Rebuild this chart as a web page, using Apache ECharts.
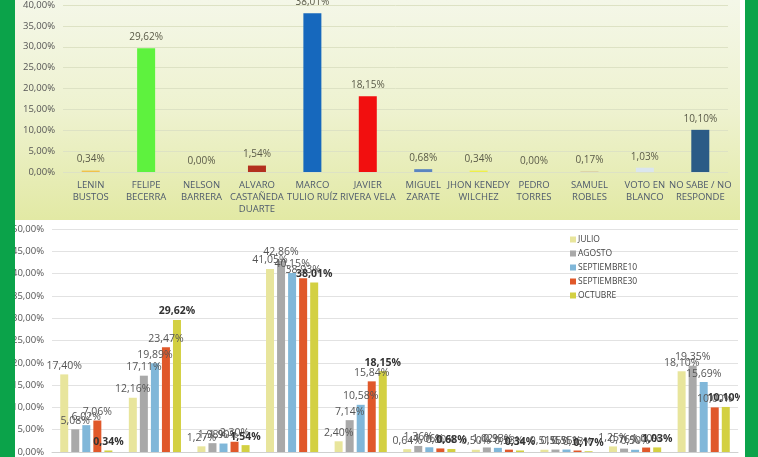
<!DOCTYPE html>
<html>
<head>
<meta charset="utf-8">
<script src="https://cdn.jsdelivr.net/npm/echarts@6/dist/echarts.min.js"></script>
<style>
  html, body { margin: 0; padding: 0; background: #fff; }
  body { width: 758px; height: 457px; position: relative; overflow: hidden; font-family: 'Open Sans', sans-serif; }
  .border-left { position: absolute; left: 0; top: 0; width: 15px; height: 457px; background: #0ba34a; z-index: 5; }
  .border-right { position: absolute; left: 745px; top: 0; width: 13px; height: 457px; background: #0ba34a; z-index: 5; }
  #top { position: absolute; left: 15px; top: 0; width: 725px; height: 220px;
         background: linear-gradient(to bottom, #f4f7e8 0%, #eef2d0 50%, #e2e9a4 100%); }
  #bottom { position: absolute; left: 0; top: 220px; width: 740px; height: 237px; background: #fff; }
</style>
</head>
<body>
<div class="border-left"></div>
<div class="border-right"></div>
<div id="top"></div>
<div id="bottom"></div>
<script>
// octubre, resultado actual
const candidatos = ['LENIN\nBUSTOS', 'FELIPE\nBECERRA', 'NELSON\nBARRERA', 'ALVARO\nCASTAÑEDA\nDUARTE',
  'MARCO\nTULIO RUÍZ', 'JAVIER\nRIVERA VELA', 'MIGUEL\nZARATE', 'JHON KENEDY\nWILCHEZ', 'PEDRO\nTORRES',
  'SAMUEL\nROBLES', 'VOTO EN\nBLANCO', 'NO SABE / NO\nRESPONDE'];
const valoresActual = [0.34, 29.62, 0.00, 1.54, 38.01, 18.15, 0.68, 0.34, 0.00, 0.17, 1.03, 10.10];
const coloresActual = ['#f0c24a', '#5ef23e', '#cccccc', '#b3301e', '#1668bd', '#f20f0f', '#5a85c0',
  '#eef04a', '#cccccc', '#d9c9a0', '#dbe6ee', '#2b5b86'];

// evolucion por mes
const candidatosHist = ['LENIN BUSTOS', 'FELIPE BECERRA', 'ALVARO CASTAÑEDA', 'MARCO TULIO RUÍZ', 'JAVIER RIVERA VELA',
  'MIGUEL ZARATE', 'JHON KENEDY WILCHEZ', 'SAMUEL ROBLES', 'VOTO EN BLANCO', 'NO SABE / NO RESPONDE'];
const meses = ['JULIO', 'AGOSTO', 'SEPTIEMBRE10', 'SEPTIEMBRE30', 'OCTUBRE'];
const julio = [17.40, 12.16, 1.27, 41.05, 2.40, 0.64, 0.50, 0.51, 1.25, 18.10];
const agosto = [5.08, 17.11, 1.98, 42.86, 7.14, 1.36, 1.02, 0.55, 0.76, 19.35];
const septiembre10 = [6.02, 19.89, 1.90, 40.15, 10.58, 1.06, 0.93, 0.55, 0.50, 15.69];
const septiembre30 = [7.06, 23.47, 2.30, 38.93, 15.84, 0.80, 0.53, 0.33, 1.00, 10.00];
const octubre = [0.34, 29.62, 1.54, 38.01, 18.15, 0.68, 0.34, 0.17, 1.03, 10.10];
const coloresMeses = ['#e8e59c', '#a9a9a9', '#80b7d9', '#e0582a', '#d3d042'];

const fmt = v => v.toFixed(2).replace('.', ',') + '%';

const topChart = echarts.init(document.getElementById('top'));
topChart.setOption({
  animation: false,
  grid: { left: 48, right: 12, top: 3, bottom: 48 },
  xAxis: {
    type: 'category',
    data: candidatos,
    axisLine: { show: false },
    axisTick: { show: false },
    axisLabel: { color: '#4e5a6c', fontSize: 9.5, lineHeight: 12, margin: 7, interval: 0, fontFamily: 'Open Sans' }
  },
  yAxis: {
    type: 'value',
    min: 0, max: 40, interval: 5,
    axisLabel: { color: '#555', fontSize: 9.5, formatter: fmt, margin: 8, fontFamily: 'Open Sans' },
    splitLine: { lineStyle: { color: '#dde2c4' } }
  },
  series: [{
    type: 'bar',
    barWidth: 18,
    data: valoresActual.map((v, i) => ({ value: v, itemStyle: { color: coloresActual[i] } })),
    label: { show: true, position: 'top', distance: 6, color: '#5a5a48', fontSize: 10, formatter: p => fmt(p.value), fontFamily: 'Open Sans' }
  }]
});

const seriesData = [julio, agosto, septiembre10, septiembre30, octubre];
const bottomChart = echarts.init(document.getElementById('bottom'));
bottomChart.setOption({
  animation: false,
  legend: {
    orient: 'vertical',
    left: 565, top: 10,
    icon: 'rect', itemWidth: 6, itemHeight: 6, itemGap: 5,
    textStyle: { color: '#444', fontSize: 8.5, fontFamily: 'Open Sans', padding: [0, 0, 0, -3] },
    data: meses
  },
  grid: { left: 52, right: 2, top: 9, bottom: 3 },
  xAxis: {
    type: 'category',
    data: candidatosHist,
    axisLine: { lineStyle: { color: '#d0d0d0' } },
    axisTick: { show: false },
    axisLabel: { show: false }
  },
  yAxis: {
    type: 'value',
    min: 0, max: 50, interval: 5,
    axisLabel: { color: '#555', fontSize: 9.5, formatter: fmt, margin: 8, fontFamily: 'Open Sans' },
    splitLine: { lineStyle: { color: '#e2e2e2' } }
  },
  series: meses.map((m, k) => ({
    name: m,
    type: 'bar',
    barWidth: 8,
    barGap: '38%',
    itemStyle: { color: coloresMeses[k] },
    data: seriesData[k],
    label: {
      show: true, position: 'top', distance: 3,
      color: k === 4 ? '#333' : '#555',
      fontWeight: k === 4 ? 'bold' : 'normal',
      fontSize: 10.5, fontFamily: 'Open Sans',
      formatter: p => fmt(p.value)
    }
  }))
});
</script>
</body>
</html>
